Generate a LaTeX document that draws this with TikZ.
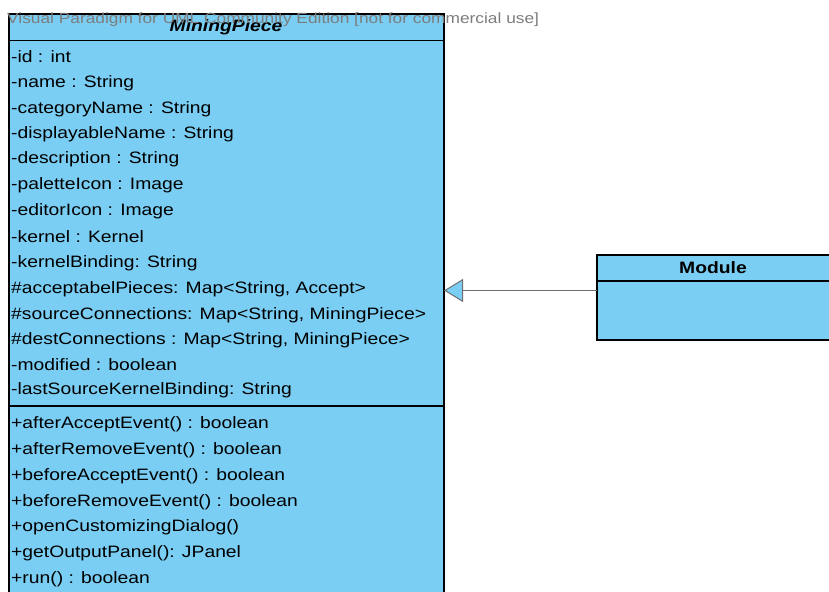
\documentclass[tikz,border=0pt]{standalone}
\usepackage{fontspec}
\setmainfont{Liberation Sans}[FakeStretch=1.17]
\usetikzlibrary{arrows.meta}
\definecolor{boxblue}{RGB}{122,206,244}
\definecolor{wmgray}{RGB}{125,125,125}
\definecolor{linkgray}{RGB}{110,110,110}
\tikzset{
  classbox/.style={draw=black, line width=1.3pt, fill=boxblue},
  sepline/.style={draw=black, line width=1.3pt},
  member/.style={anchor=west, inner sep=0pt, font=\fontsize{16.5}{18}\selectfont},
  ctitle/.style={inner sep=0pt, font=\fontsize{16.5}{18}\selectfont\bfseries},
  wmark/.style={anchor=west, inner sep=0pt, text=wmgray, font=\fontsize{14.8}{16}\selectfont},
  genlink/.style={draw=linkgray, line width=1pt, -{Triangle[length=19pt,width=23pt,fill=boxblue,line width=1pt]}},
}
\begin{document}
\begin{tikzpicture}[x=1pt,y=-1pt]
\useasboundingbox (0,0) rectangle (829,591);
\clip (0,0) rectangle (829,591);
% MiningPiece class
\path[classbox] (9,14) rectangle (444,610);
\node[inner sep=0pt, minimum width=435pt, minimum height=596pt, anchor=north west] (mp) at (9,14) {};
\draw[sepline] (9,40.5) -- (444,40.5);
\draw[sepline] (9,406) -- (444,406);
\node[ctitle, font=\fontsize{16.5}{18}\selectfont\bfseries\itshape] (mptitle) at (226,27.5) {MiningPiece};
% attributes
\node[member] (a1) at (11,57) {-id : int};
\node[member] (a2) at (11,83) {-name : String};
\node[member] (a3) at (11,109) {-categoryName : String};
\node[member] (a4) at (11,134) {-displayableName : String};
\node[member] (a5) at (11,159.5) {-description : String};
\node[member] (a6) at (11,185.5) {-paletteIcon : Image};
\node[member] (a7) at (11,211.5) {-editorIcon : Image};
\node[member] (a8) at (11,237) {-kernel : Kernel};
\node[member] (a9) at (11,263) {-kernelBinding: String};
\node[member] (a10) at (11,289.5) {\#acceptabelPieces: Map<String, Accept>};
\node[member] (a11) at (11,315.5) {\#sourceConnections: Map<String, MiningPiece>};
\node[member] (a12) at (11,340) {\#destConnections : Map<String, MiningPiece>};
\node[member] (a13) at (11,365) {-modified : boolean};
\node[member] (a14) at (11,390.5) {-lastSourceKernelBinding: String};
% operations
\node[member] (o1) at (11,424) {+afterAcceptEvent() : boolean};
\node[member] (o2) at (11,450.5) {+afterRemoveEvent() : boolean};
\node[member] (o3) at (11,476.5) {+beforeAcceptEvent() : boolean};
\node[member] (o4) at (11,502) {+beforeRemoveEvent() : boolean};
\node[member] (o5) at (11,527.5) {+openCustomizingDialog()};
\node[member] (o6) at (11,553.5) {+getOutputPanel(): JPanel};
\node[member] (o7) at (11,579) {+run() : boolean};
% Module class
\path[classbox] (597,255) rectangle (832,340);
\node[inner sep=0pt, minimum width=235pt, minimum height=85pt, anchor=north west] (mod) at (597,255) {};
\draw[sepline] (597,281) -- (832,281);
\node[ctitle] (modtitle) at (713,268) {Module};
% generalization
\coordinate (modport) at (597,290.5);
\coordinate (mpport) at (444,290.5);
\draw[genlink] (modport) -- (mpport);
% watermark
\node[wmark] (wm) at (7,20) {Visual Paradigm for UML Community Edition [not for commercial use]};
\end{tikzpicture}
\end{document}
